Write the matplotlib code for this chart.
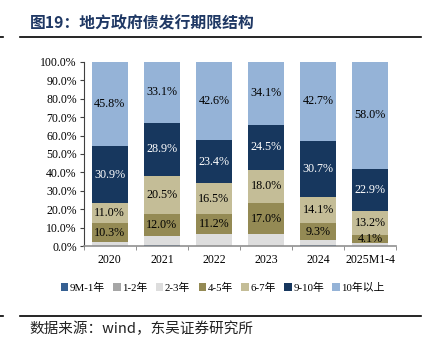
import matplotlib
matplotlib.use("Agg")
import matplotlib.pyplot as plt
import numpy as np
from matplotlib.ticker import FixedLocator, PercentFormatter

plt.rcParams['font.family'] = ['Liberation Serif', 'Noto Sans CJK SC']

categories = ["2020", "2021", "2022", "2023", "2024", "2025M1-4"]
series_names = ["9M-1年", "1-2年", "2-3年", "4-5年", "6-7年", "9-10年", "10年以上"]
m9_1y = [0.0, 0.5, 0.0, 0.0, 0.5, 0.0]
y1_2 = [0.0, 0.0, 0.0, 0.0, 0.0, 0.0]
y2_3 = [2.0, 5.0, 6.3, 6.4, 2.7, 1.8]
y4_5 = [10.3, 12.0, 11.2, 17.0, 9.3, 4.1]
y6_7 = [11.0, 20.5, 16.5, 18.0, 14.1, 13.2]
y9_10 = [30.9, 28.9, 23.4, 24.5, 30.7, 22.9]
y10_plus = [45.8, 33.1, 42.6, 34.1, 42.7, 58.0]

series = [m9_1y, y1_2, y2_3, y4_5, y6_7, y9_10, y10_plus]
colors = ["#366092", "#A6A6A6", "#DDDDDD", "#948A54", "#C4BD97", "#17375E", "#95B3D7"]
labeled = {3: "black", 4: "black", 5: "white", 6: "black"}

fig = plt.figure(figsize=(4.27, 3.46), dpi=100)
ax = fig.add_axes([0.196, 0.289, 0.732, 0.532])

x = np.arange(len(categories))
bottom = np.zeros(len(categories))
for i, (vals, c, name) in enumerate(zip(series, colors, series_names)):
    vals = np.array(vals)
    ax.bar(x, vals, 0.69, bottom=bottom, color=c, label=name, zorder=2)
    if i in labeled:
        for xi, v, b in zip(x, vals, bottom):
            if v > 0:
                ax.text(xi, b + v / 2, f"{v:.1f}%", ha="center", va="center",
                        fontsize=8.7, color=labeled[i], zorder=3)
    bottom += vals

ax.set_xlim(-0.5, len(categories) - 0.5)
ax.set_ylim(0, 100)
ax.yaxis.set_major_locator(FixedLocator(np.arange(0, 101, 10)))
ax.yaxis.set_major_formatter(PercentFormatter(decimals=1))
ax.set_xticks(x)
ax.set_xticklabels(categories)
ax.xaxis.set_minor_locator(FixedLocator(np.arange(-0.5, len(categories), 1.0)))
ax.tick_params(axis="x", which="major", length=0, labelsize=8.5, pad=6)
ax.tick_params(axis="x", which="minor", length=3, color="#808080", direction="out")
ax.tick_params(axis="y", length=3, labelsize=8.5, color="#404040", pad=2)

for s in ["top", "right"]:
    ax.spines[s].set_visible(False)
ax.spines["left"].set_color("#404040")
ax.spines["left"].set_linewidth(0.8)
ax.spines["bottom"].set_color("#909090")
ax.spines["bottom"].set_linewidth(1.2)

leg = ax.legend(loc="upper center", bbox_to_anchor=(0.445, -0.175), ncol=7, frameon=False,
                fontsize=7.8, handlelength=0.7, handleheight=0.7, handletextpad=0.15,
                columnspacing=0.75, borderaxespad=0)

fig.text(0.07, 0.932, "图19：地方政府债发行期限结构", fontsize=11.4, fontweight="bold",
         color="#1F3864", ha="left", va="center",
         family=["Noto Sans CJK SC", "Liberation Serif"])
fig.add_artist(plt.Line2D([0.047, 0.985], [0.893, 0.893], color="black", lw=1.2))
fig.add_artist(plt.Line2D([0.0, 0.006], [0.893, 0.893], color="black", lw=1.2))
fig.add_artist(plt.Line2D([0.047, 0.985], [0.087, 0.087], color="black", lw=1.2))
fig.add_artist(plt.Line2D([0.0, 0.006], [0.087, 0.087], color="black", lw=1.2))
fig.text(0.07, 0.05, "数据来源：wind，东吴证券研究所", fontsize=10.5, color="#222222",
         ha="left", va="center", family=["Noto Sans CJK SC", "Liberation Serif"])

fig.savefig("out.png", dpi=100)
